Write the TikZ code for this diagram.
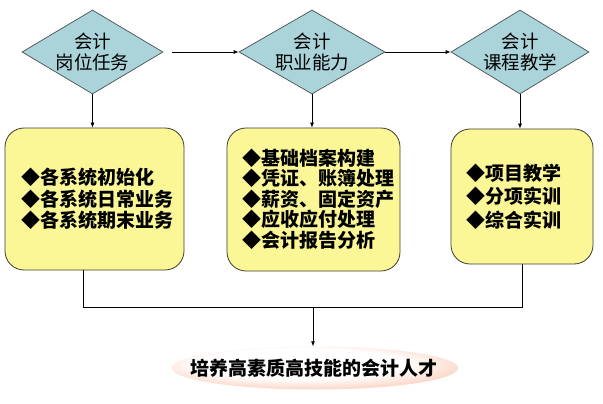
\documentclass[tikz,border=0pt]{standalone}
\usepackage{fontspec}
\setmainfont{Noto Sans CJK SC}
\usetikzlibrary{shapes.geometric,arrows.meta}
\definecolor{dfill}{RGB}{170,212,217}
\definecolor{dline}{RGB}{70,80,82}
\definecolor{bfill}{RGB}{252,247,150}
\definecolor{bline}{RGB}{60,60,45}
\definecolor{salmonc}{RGB}{248,170,138}
\pgfdeclareradialshading{goalshade}{\pgfpoint{-4bp}{8bp}}{color(0bp)=(white); color(18bp)=(white); color(40bp)=(salmonc); color(50bp)=(salmonc)}
\begin{document}
\begin{tikzpicture}[x=1pt,y=-1pt,
  dia/.style={shape=diamond,draw=dline,line width=0.7pt,fill=dfill,minimum width=141pt,minimum height=84pt,inner sep=0pt},
  dlabel/.style={align=center,font=\fontsize{18.5}{21}\selectfont,inner sep=0pt},
  bbox/.style={draw=bline,line width=0.8pt,fill=bfill,rounded corners=19pt,inner sep=0pt},
  items/.style={align=left,font=\bfseries\fontsize{19}{#1}\selectfont,inner sep=0pt},
  conn/.style={line width=0.7pt,black},
  arr/.style={conn,-{Latex[length=5pt,width=4pt]}}]
\useasboundingbox (0,0) rectangle (603,404);
% diamonds
\node[dia] (d1) at (92.5,52) {};
\node[dlabel] (l1) at (d1) {会计\\岗位任务};
\node[dia,minimum width=146pt] (d2) at (312,52) {};
\node[dlabel] (l2) at (d2) {会计\\职业能力};
\node[dia,minimum width=138pt] (d3) at (520,52) {};
\node[dlabel] (l3) at (d3) {会计\\课程教学};
% boxes
\node[bbox,minimum width=179pt,minimum height=142pt] (b1) at (94.5,199) {};
\node[bbox,minimum width=173pt,minimum height=143pt] (b2) at (313.5,199.5) {};
\node[bbox,minimum width=142pt,minimum height=135pt] (b3) at (522,196.5) {};
\node[items=21.5] (t1) at (97.5,199) {◆各系统初始化\\◆各系统日常业务\\◆各系统期末业务};
\node[items=20.5] (t2) at (318,199) {◆基础档案构建\\◆凭证、账簿处理\\◆薪资、固定资产\\◆应收应付处理\\◆会计报告分析};
\node[items=23.5] (t3) at (513.5,196.5) {◆项目教学\\◆分项实训\\◆综合实训};
% goal
\node[ellipse,shading=goalshade,minimum width=286pt,minimum height=43pt,inner sep=0pt] (g) at (315,368) {};
\node[font=\bfseries\fontsize{19}{21}\selectfont,inner sep=0pt] (gt) at (313.5,368) {培养高素质高技能的会计人才};
% connectors
\draw[arr,shorten <=9pt] (d1.east) -- (d2.west);
\draw[arr] (d2.east) -- (d3.west);
\draw[arr] (d1.south) -- (b1.north -| d1.south);
\draw[arr] (d2.south) -- (b2.north -| d2.south);
\draw[arr] (d3.south) -- (b3.north -| d3.south);
\coordinate (hl) at (83,307);
\coordinate (hm) at (313,307);
\coordinate (hr) at (522,307);
\draw[conn] (b1.south -| hl) -- (hl) -- (hr) -- (b3.south -| hr);
\draw[arr] (hm) -- (g.north -| hm);
\end{tikzpicture}
\end{document}
